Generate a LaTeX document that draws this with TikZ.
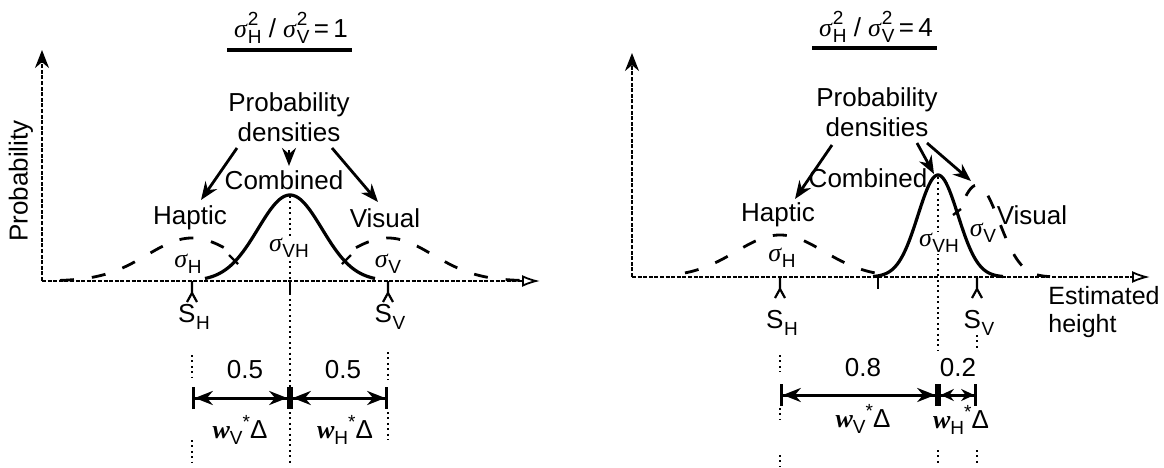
\documentclass[tikz,border=0pt]{standalone}
\usepackage{fontspec}
\setmainfont{Liberation Sans}
\newfontfamily\lserif{Liberation Serif}
\usetikzlibrary{arrows.meta}
\newcommand\sgi{{\lserif\itshape σ}}
\newcommand\lowsub[1]{\raisebox{-0.45ex}{\fontsize{9.5}{10}\selectfont #1}}
\newcommand\sgsub[1]{\sgi\kern0.02em\lowsub{#1}}
\newcommand\sgsq[1]{\sgi\kern0.03em\rlap{\raisebox{0.85ex}{\fontsize{9.5}{10}\selectfont 2}}\lowsub{#1}}
\newcommand\Ssub[1]{S\kern0.02em\lowsub{#1}}
\newcommand\wdel[1]{{\lserif\bfseries\itshape w}\lowsub{#1}\raisebox{0.75ex}{\fontsize{9.5}{10}\selectfont *}Δ}
\newcommand\smark[2]{\draw[marker] (#1,#2) -- ++(0,12) ++(-5,9) -- ++(5,-9) -- ++(5,9);}
\begin{document}
\begin{tikzpicture}[x=0.5pt,y=-0.5pt,font=\fontsize{13}{15}\selectfont,
  axis/.style={line width=0.9pt, dash pattern=on 2pt off 0.8pt},
  yarrow/.style={-{Stealth[length=9pt,width=7pt]}},
  xarrow/.style={-{Latex[open,length=9pt,width=6pt]}},
  combo/.style={line width=1.6pt},
  sens/.style={line width=1.4pt, dash pattern=on 7pt off 9pt},
  guide/.style={line width=1pt, dash pattern=on 1pt off 1.7pt},
  uline/.style={line width=1.6pt},
  parr/.style={line width=1.4pt, -{Stealth[length=9pt,width=7pt]}},
  dim/.style={line width=1.5pt, {Bar[width=11pt,line width=1.4pt]Stealth[length=9pt,width=7pt]}-{Stealth[length=9pt,width=7pt]Bar[width=11pt,line width=1.4pt]}},
  dimshort/.style={line width=1.5pt, {Bar[width=11pt,line width=1.4pt]Stealth[length=6.5pt,width=6pt]}-{Stealth[length=6.5pt,width=6pt]Bar[width=11pt,line width=1.4pt]}},
  marker/.style={line width=1.1pt},
  tickm/.style={line width=1.2pt},
  lbl/.style={inner sep=1pt},
  cut/.style={inner sep=0.5pt, fill=white}]
\useasboundingbox (0,0) rectangle (1164,467);

% ================= LEFT PANEL =================
\node (t1) at (291,28) {\sgsq{H}\;/\;\sgsq{V}\,=\,1};
\draw[uline] (227,50) -- (352,50);

\coordinate (o1) at (42,281);
\coordinate (ytop1) at (42,50);
\coordinate (xend1) at (540,281);
\draw[axis,yarrow] (o1) -- (ytop1);
\draw[axis,xarrow] (o1) -- (xend1);
\node[rotate=90] (prob) at (21,181) {Probability};

% curves
\draw[sens] plot[domain=60:224, samples=70] (\x, {281-43*exp(-0.5*((\x-192)/45)^2)});
\draw[sens] plot[domain=356:525, samples=70] (\x, {281-43*exp(-0.5*((\x-388)/45)^2)});
\draw[combo] plot[domain=205:375, samples=90] (\x, {281-86*exp(-0.5*((\x-290)/32)^2)});
\draw[tickm] (229,255) -- (238,264);
\draw[tickm] (351,255) -- (342,264);

% guides
\draw[guide] (290,196) -- (290,465);
\draw[tickm] (290,281) -- (290,295);
\draw[guide] (192,355) -- (192,378);
\draw[guide] (192,440) -- (192,462);
\draw[guide] (388,352) -- (388,380);
\draw[guide] (388,412) -- (388,440);

% labels
\node[lbl] (sh1) at (188,264) {\sgsub{H}};
\node[cut] (svh1) at (289,248) {\sgsub{VH}};
\node[lbl] (sv1) at (388,264) {\sgsub{V}};
\smark{192}{281}
\smark{388}{281}
\node (SH1) at (194,317) {\Ssub{H}};
\node (SV1) at (390,317) {\Ssub{V}};

\node[align=center] (pd1) at (289,117) {Probability\\densities};
\node (comb1) at (284,180) {Combined};
\node (hap1) at (190,218) {Haptic};
\node (vis1) at (385,218) {Visual};
\coordinate (p1a) at (237,148); \coordinate (p1ae) at (201,200);
\coordinate (p1b) at (289,150); \coordinate (p1be) at (289,166);
\coordinate (p1c) at (332,148); \coordinate (p1ce) at (378,202);
\draw[parr] (p1a) -- (p1ae);
\draw[parr] (p1b) -- (p1be);
\draw[parr] (p1c) -- (p1ce);

% dimension
\coordinate (dL1) at (192,398);
\coordinate (dM1) at (290,398);
\coordinate (dR1) at (388,398);
\draw[dim] (dL1) -- (dM1);
\draw[dim] (dM1) -- (dR1);
\node (n05a) at (245,370) {0.5};
\node (n05b) at (343,370) {0.5};
\node (wv1) at (240,430) {\wdel{V}};
\node (wh1) at (345,430) {\wdel{H}};

% ================= RIGHT PANEL =================
\node (t2) at (876,27) {\sgsq{H}\;/\;\sgsq{V}\,=\,4};
\draw[uline] (812,48) -- (937,48);

\coordinate (o2) at (632,277);
\coordinate (ytop2) at (632,53);
\coordinate (xend2) at (1150,277);
\draw[axis,yarrow] (o2) -- (ytop2);
\draw[axis,xarrow] (o2) -- (xend2);
\node[align=left, anchor=west, inner sep=0pt, font=\fontsize{12.5}{14}\selectfont] (est) at (1048,312) {Estimated\\height};

% curves
\draw[sens] plot[domain=685:875, samples=80] (\x, {277-42*exp(-0.5*((\x-780)/44)^2)});
\draw[sens] plot[domain=966:1050, samples=60] (\x, {277-92*exp(-0.5*((\x-977)/22)^2)});
\draw[combo] plot[domain=873:1003, samples=90] (\x, {277-102*exp(-0.5*((\x-938)/20)^2)});
\draw[tickm] (953,215) -- (961,209);

% guides
\draw[guide] (938,177) -- (938,350);
\draw[guide] (938,450) -- (938,466);
\draw[tickm] (878,277) -- (878,289);
\draw[guide] (780,355) -- (780,372);
\draw[guide] (780,408) -- (780,420);
\draw[guide] (780,455) -- (780,466);
\draw[guide] (977,335) -- (977,350);
\draw[guide] (977,450) -- (977,466);

% labels
\node[lbl] (sh2) at (782,258) {\sgsub{H}};
\node[cut] (svh2) at (939,243) {\sgsub{VH}};
\node[lbl] (sv2) at (983,233) {\sgsub{V}};
\smark{780}{277}
\smark{977}{277}
\node (SH2) at (782,323) {\Ssub{H}};
\node (SV2) at (979,323) {\Ssub{V}};

\node[align=center] (pd2) at (877,112) {Probability\\densities};
\node (comb2) at (868,178) {Combined};
\node (hap2) at (778,215) {Haptic};
\node (vis2) at (1032,215) {Visual};
\coordinate (p2a) at (832,145); \coordinate (p2ae) at (795,199);
\coordinate (p2b) at (917,143); \coordinate (p2be) at (934,174);
\coordinate (p2c) at (927,143); \coordinate (p2ce) at (971,181);
\draw[parr] (p2a) -- (p2ae);
\draw[parr] (p2b) -- (p2be);
\draw[parr] (p2c) -- (p2ce);

% dimension
\coordinate (dL2) at (780,395);
\coordinate (dM2) at (938,395);
\coordinate (dR2) at (977,395);
\draw[dim] (dL2) -- (dM2);
\draw[dimshort] (dM2) -- (dR2);
\node (n08) at (863,368) {0.8};
\node (n02) at (958,368) {0.2};
\node (wv2) at (863,419) {\wdel{V}};
\node (wh2) at (961,420) {\wdel{H}};
\end{tikzpicture}
\end{document}
